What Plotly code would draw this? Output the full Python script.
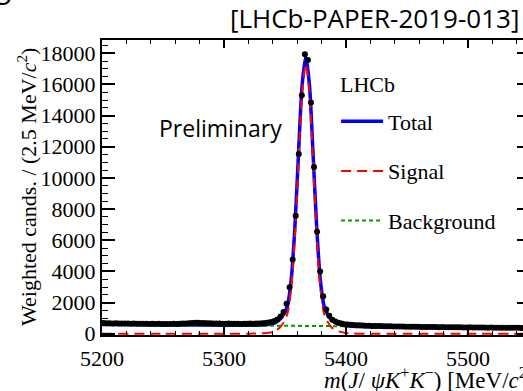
import plotly.graph_objects as go

# Weighted candidates per 2.5 MeV/c^2 bin, starting at 5200 MeV/c^2
BIN_LOW = 5200.0
BIN_WIDTH = 2.5
CANDS = [
    690, 670, 680, 660, 670, 655, 665, 650, 660, 645,
    650, 640, 645, 635, 640, 630, 640, 625, 635, 630,
    625, 630, 620, 635, 625, 640, 650, 660, 670, 690,
    700, 705, 695, 690, 680, 670, 660, 650, 655, 645,
    640, 650, 635, 645, 640, 630, 645, 640, 650, 645,
    655, 660,
    670, 690, 720, 760, 820, 920, 1100, 1390,
    1920, 2990, 4760, 7580, 11530, 15310, 17940, 17570, 14840, 10700,
    6550, 3990, 2400, 1550, 1150, 900, 780, 700, 650, 610,
    590, 570, 560, 545, 540, 530, 520, 515, 505, 500,
    495, 490, 485, 480, 478, 470, 468, 465, 460, 455,
    455, 450, 445, 448, 440, 438, 435, 440, 430, 428,
    425, 430, 420, 418, 420, 415, 410, 415, 408, 405,
    410, 400, 405, 398, 400, 395, 392, 398, 390, 388,
    392, 385, 388, 380, 385, 378, 382, 375, 380, 372,
]
MASS = [BIN_LOW + BIN_WIDTH * (i + 0.5) for i in range(len(CANDS))]

# Fit model evaluated at selected masses
MODEL_MASS = [5200, 5250, 5300, 5320, 5330, 5335, 5340, 5343, 5346, 5349,
              5352, 5355, 5358, 5361, 5364, 5367, 5370, 5373, 5376, 5379,
              5382, 5385, 5388, 5391, 5394, 5399, 5405, 5415, 5450, 5500, 5550]
SIGNAL = [0, 0, 0, 5, 20, 50, 110, 230, 420, 750,
          1300, 2900, 6250, 11000, 15450, 17300, 15450, 11000, 6250, 2900,
          1300, 750, 420, 250, 150, 60, 20, 0, 0, 0, 0]
BACKGROUND = [600, 575, 550, 540, 535, 532, 528, 526, 523, 520,
              517, 514, 510, 507, 504, 500, 497, 494, 491, 488,
              486, 483, 480, 478, 475, 472, 468, 462, 445, 420, 395]
TOTAL = [600, 575, 550, 545, 555, 582, 638, 756, 943, 1270,
         1817, 3414, 6760, 11507, 15954, 17800, 15947, 11494, 6741, 3388,
         1786, 1233, 900, 728, 625, 532, 488, 462, 445, 420, 395]

SERIF = "Liberation Serif"
SANS = "Open Sans"

fig = go.Figure()
fig.add_trace(go.Scatter(
    x=MODEL_MASS, y=TOTAL, mode="lines", name="Total",
    line=dict(color="#0000ff", width=3.5, shape="spline", smoothing=0.8),
    legendgroup="a",
))
fig.add_trace(go.Scatter(
    x=MODEL_MASS, y=SIGNAL, mode="lines", name="Signal",
    line=dict(color="#ff0000", width=2, dash="10px,6px", shape="spline", smoothing=0.8),
    legendgroup="b",
))
fig.add_trace(go.Scatter(
    x=MODEL_MASS, y=BACKGROUND, mode="lines", name="Background",
    line=dict(color="#009900", width=2, dash="4px,3px"),
    legendgroup="c",
))
fig.add_trace(go.Scatter(
    x=MASS, y=CANDS, mode="markers", showlegend=False,
    marker=dict(color="black", size=6),
))
# right-hand tick marks
fig.add_trace(go.Scatter(x=[], y=[], yaxis="y2", showlegend=False))

YRANGE = [-80, 18850]

fig.update_layout(
    width=523, height=391,
    margin=dict(l=102, r=0, t=40, b=56),
    paper_bgcolor="white", plot_bgcolor="white",
    showlegend=True,
    legend=dict(
        x=0.556, y=0.795, xanchor="left", yanchor="top",
        bgcolor="rgba(0,0,0,0)",
        font=dict(family=SERIF, size=22, color="black"),
        itemwidth=42,
        traceorder="grouped", tracegroupgap=18,
    ),
    xaxis=dict(
        range=[5200, 5545], showline=True, linecolor="black", linewidth=2,
        mirror="ticks", ticks="inside", ticklen=8, tickwidth=1.5, tickcolor="black",
        tick0=5200, dtick=100, showgrid=False, zeroline=False,
        tickformat="d", ticklabelstandoff=3,
        tickfont=dict(family=SERIF, size=22, color="black"),
        minor=dict(dtick=20, ticks="inside", ticklen=4, tickwidth=1.2, tickcolor="black"),
    ),
    yaxis=dict(
        range=YRANGE, showline=True, linecolor="black", linewidth=2,
        ticks="inside", ticklen=13, tickwidth=1.5, tickcolor="black",
        tick0=0, dtick=2000, showgrid=False, zeroline=False, tickformat="d",
        tickfont=dict(family=SERIF, size=22, color="black"),
        minor=dict(dtick=500, ticks="inside", ticklen=6, tickwidth=1.2, tickcolor="black"),
    ),
    yaxis2=dict(
        range=YRANGE, overlaying="y", side="right", showline=False,
        ticks="inside", ticklen=6, tickwidth=1.5, tickcolor="black",
        tick0=0, dtick=2000, showgrid=False, zeroline=False, showticklabels=False,
    ),
)

fig.add_annotation(
    text="LHCb", xref="paper", yref="paper", x=0.5606, y=0.8508,
    xanchor="left", yanchor="middle", showarrow=False,
    font=dict(family=SERIF, size=22, color="black"),
)
fig.add_annotation(
    text="Weighted cands. / (2.5 MeV/<i>c</i><sup>2</sup>)",
    xref="paper", yref="paper", x=-0.178, y=0.502, textangle=-90,
    xanchor="center", yanchor="middle", showarrow=False,
    font=dict(family=SERIF, size=22, color="black"),
)
fig.add_annotation(
    text="<i>m</i>(<i>J</i>/ <i>ψK</i><sup>+</sup><i>K</i><sup>−</sup>) [MeV/<i>c</i><sup>2</sup>]",
    xref="paper", yref="paper", x=0.5226, y=-0.1458,
    xanchor="left", yanchor="middle", showarrow=False,
    font=dict(family=SERIF, size=23, color="black"),
)
fig.add_annotation(
    text="Preliminary", xref="paper", yref="paper", x=0.1306, y=0.7017,
    xanchor="left", yanchor="middle", showarrow=False,
    font=dict(family=SANS, size=23, color="black"),
)
fig.add_annotation(
    text="[LHCb-PAPER-2019-013]", xref="paper", yref="paper", x=0.9952, y=1.0746,
    xanchor="right", yanchor="middle", showarrow=False,
    font=dict(family=SANS, size=26, color="black"),
)
fig.add_annotation(
    text="5", xref="paper", yref="paper", x=-0.2328, y=1.0814,
    xanchor="center", yanchor="bottom", showarrow=False,
    font=dict(family=SANS, size=30, color="black"),
)

fig.write_html("out.html")
